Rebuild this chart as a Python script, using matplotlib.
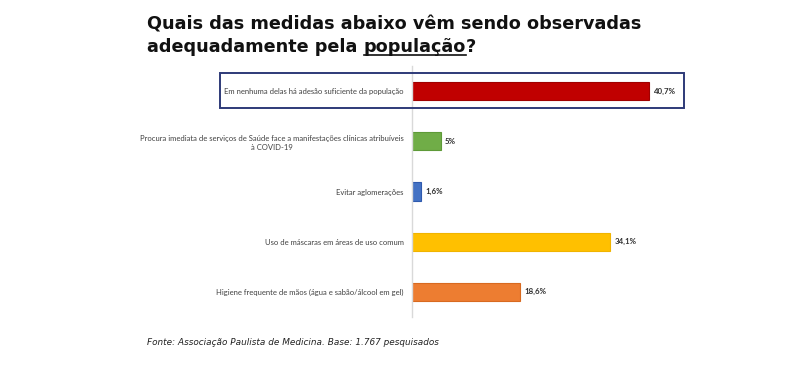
import matplotlib.pyplot as plt
from matplotlib.patches import Rectangle

categorias = [
    "Em nenhuma delas há adesão suficiente da população",
    "Procura imediata de serviços de Saúde face a manifestações clínicas atribuíveis\nà COVID-19",
    "Evitar aglomerações",
    "Uso de máscaras em áreas de uso comum",
    "Higiene frequente de mãos (água e sabão/álcool em gel)",
]
valores = [40.7, 5, 1.6, 34.1, 18.6]
rotulos = ["40,7%", "5%", "1,6%", "34,1%", "18,6%"]
cores = ["#C00000", "#70AD47", "#4472C4", "#FFC000", "#ED7D31"]
bordas = ["#A00000", "#5E9A38", "#2F5AAE", "#F0B400", "#D86A20"]

W, H = 800, 369
fig = plt.figure(figsize=(W / 100, H / 100), dpi=100)

# axes in pixel terms: x0 = 412, 5.82 px per %
left, right = 412, 412 + 50 * 5.82
top, bottom = 66, 317
ax = fig.add_axes([left / W, 1 - bottom / H, (right - left) / W, (bottom - top) / H])

pos = list(range(len(categorias)))
ax.barh(pos, valores, height=0.36, color=cores, edgecolor=bordas, linewidth=0.8)
ax.set_xlim(0, 50)
ax.set_ylim(len(categorias) - 0.5, -0.5)
for s in ["top", "right", "bottom"]:
    ax.spines[s].set_visible(False)
ax.spines["left"].set_color("#D9D9D9")
ax.spines["left"].set_linewidth(1)
ax.set_xticks([])
ax.set_yticks(pos)
ax.set_yticklabels(categorias, fontsize=5.5, color="#404040", family="Lato", linespacing=1.4)
ax.tick_params(axis="y", length=0, pad=6)
for lab in ax.get_yticklabels():
    lab.set_horizontalalignment("right")
    lab.set_multialignment("center")

for p, v, r in zip(pos, valores, rotulos):
    ax.text(v + 0.7, p, r, va="center", ha="left", fontsize=5.7, color="#303030",
            family="Lato", fontweight="bold")

# highlight box round the first category
fig.patches.append(Rectangle((220 / W, 1 - 108 / H), (684 - 220) / W, (108 - 73) / H,
                             transform=fig.transFigure, fill=False,
                             edgecolor="#2E3A78", linewidth=1.4))

# title
tkw = dict(fontsize=12.7, fontweight="bold", family="DejaVu Sans", color="#111111", va="baseline")
fig.text(147 / W, 1 - 29 / H, "Quais das medidas abaixo vêm sendo observadas", **tkw)
t1 = fig.text(147 / W, 1 - 52 / H, "adequadamente pela ", **tkw)
fig.canvas.draw()
r = fig.canvas.get_renderer()
e1 = t1.get_window_extent(r)
t2 = fig.text(e1.x1 / W, 1 - 52 / H, "população", **tkw)
e2 = t2.get_window_extent(r)
fig.text(e2.x1 / W, 1 - 52 / H, "?", **tkw)
fig.add_artist(plt.Line2D([e2.x0 / W, e2.x1 / W], [1 - 55 / H, 1 - 55 / H],
                          transform=fig.transFigure, color="#111111", linewidth=1.2))

fig.text(147 / W, 1 - 345 / H, "Fonte: Associação Paulista de Medicina. Base: 1.767 pesquisados",
         fontsize=6.4, style="italic", family="DejaVu Sans", color="#222222")

fig.savefig("out.png", dpi=100)
